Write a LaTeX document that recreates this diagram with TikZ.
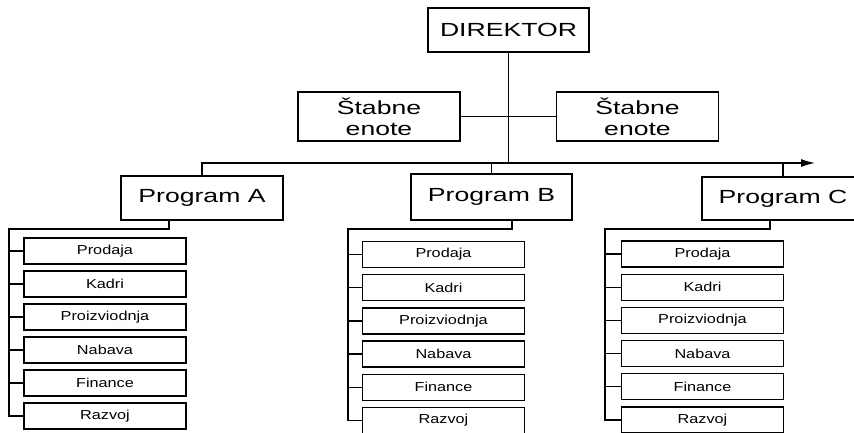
\documentclass[tikz,border=0pt]{standalone}
\usepackage{fontspec}
\setmainfont{Liberation Sans}
\newfontfamily\velika[FakeStretch=1.4]{Liberation Sans}
\newfontfamily\mala[FakeStretch=1.25]{Liberation Sans}
\usetikzlibrary{
	positioning,   %定位
	arrows.meta,   %箭头
	calc           %计算
}
\tikzset{
	every picture/.style={
		>=latex,
		line width=1.3pt
	},
	glavna/.style={draw, inner sep=0pt,
		minimum width=161pt, minimum height=44pt,
		align=center, font=\velika\fontsize{19}{21}\selectfont},
	oddelek/.style={draw, inner sep=0pt,
		minimum width=162pt, minimum height=26pt,
		font=\mala\fontsize{13}{15}\selectfont}
}

\begin{document}
\begin{tikzpicture}[x=1pt,y=-1pt]
	\useasboundingbox (0,0) rectangle (854,432);
	\clip (0,0) rectangle (854,432);
	% 上层
	\node (direktor) at (508.5,30) [glavna] {DIREKTOR};
	\node (stab1) at (379,116.5) [glavna, minimum width=162pt, minimum height=49pt] {Štabne\\enote};
	\node (stab2) at (637.5,116.5) [glavna, minimum width=162pt, minimum height=49pt] {Štabne\\enote};
	\node (progA) at (202,198) [glavna, minimum width=162pt] {Program A};
	\node (progB) at (491.5,197) [glavna, minimum height=46pt] {Program B};
	\node (progC) at (783,198.5) [glavna, minimum width=162pt, minimum height=43pt] {Program C};
	\coordinate (puscica) at (815,163);
	\draw (direktor.south) -- (direktor.south |- puscica);
	\draw (stab1.east) -- (stab2.west);
	\draw[-{Latex[length=14pt,width=8pt]}] (progA.north) |- (puscica);
	\draw (progB.north) -- (progB.north |- puscica);
	\draw (progC.north) -- (progC.north |- puscica);
	% 下层
	\foreach \p/\x/\y/\k in {A/105/251/33, B/443.5/254.5/33.2, C/702.5/254/33.2}
	\foreach \ime [count=\i] in {Prodaja,Kadri,Proizviodnja,Nabava,Finance,Razvoj}
	\node (\p\i) at (\x,{\y+\k*(\i-1)}) [oddelek] {\ime};
	\foreach \p/\dx/\sx in {A/-33/9, B/20.5/348, C/-13/605} {
		\coordinate (spine\p) at (\sx,229);
		\draw ([xshift=\dx pt]prog\p.south) |- (spine\p) |- (\p6.west);
		\foreach \i in {1,...,5}
		\draw (\p\i.west) -- (\p\i.west -| spine\p);
	}
\end{tikzpicture}
\end{document}
